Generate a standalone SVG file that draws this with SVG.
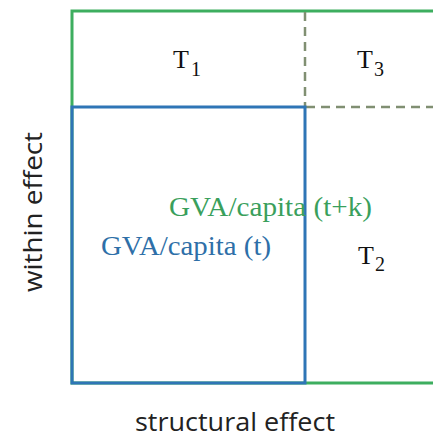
<svg xmlns="http://www.w3.org/2000/svg" width="433" height="439" viewBox="0 0 433 439">
<style>
.g{stroke:#3dae5f;stroke-width:3;fill:none}
.b{stroke:#2e75b6;stroke-width:3;fill:none}
.d{stroke:#808f72;stroke-width:2.5;fill:none;stroke-dasharray:9 6}
.t{font-family:"Liberation Serif","Times New Roman",serif;fill:#111}
.lbl{font-family:"Open Sans","Liberation Sans",sans-serif;font-size:26px;fill:#222}
</style>
<rect width="433" height="439" fill="#fff"/>
<g id="connectors">
<path class="g" d="M434 11H72V383H434"/>
<path class="d" d="M305 12V107M306 107H434"/>
<rect class="b" x="72" y="107" width="233" height="276"/>
</g>
<g id="T1"><text class="t" x="173" y="68" font-size="26">T<tspan font-size="20" dx="2" dy="8">1</tspan></text></g>
<g id="T3"><text class="t" x="357" y="68" font-size="26">T<tspan font-size="20" dx="1" dy="8">3</tspan></text></g>
<g id="T2"><text class="t" x="358" y="264" font-size="26">T<tspan font-size="20" dx="1" dy="7">2</tspan></text></g>
<g id="gva_tk"><text class="t" x="169" y="216" font-size="27" style="fill:#3a9f5c" textLength="203" lengthAdjust="spacingAndGlyphs">GVA/capita (t+k)</text></g>
<g id="gva_t"><text class="t" x="101" y="255" font-size="27" style="fill:#2e6fa8" textLength="170" lengthAdjust="spacingAndGlyphs">GVA/capita (t)</text></g>
<g id="within"><text class="lbl" x="42" y="212" text-anchor="middle" transform="rotate(-90 42 212)" textLength="160" lengthAdjust="spacingAndGlyphs">within effect</text></g>
<g id="structural"><text class="lbl" x="235" y="431" text-anchor="middle" textLength="200" lengthAdjust="spacingAndGlyphs">structural effect</text></g>
</svg>
